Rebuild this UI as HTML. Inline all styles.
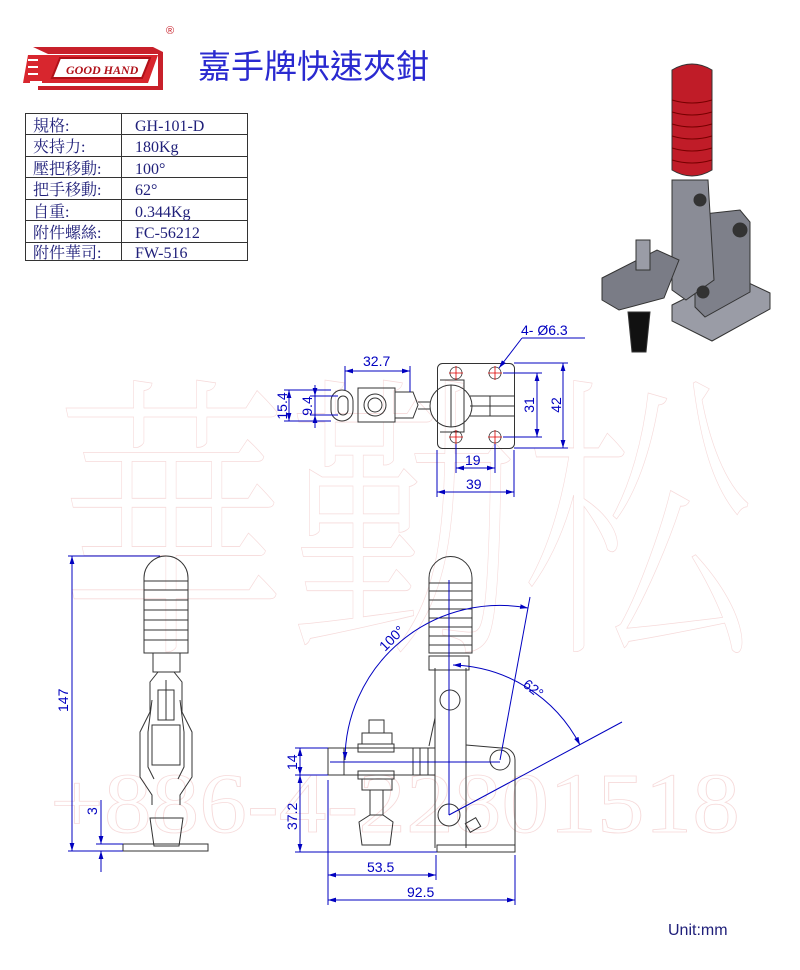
<!DOCTYPE html>
<html><head><meta charset="utf-8"><style>
html,body{margin:0;padding:0;background:#fff;}
svg{display:block;}
</style></head><body>
<svg width="800" height="970" viewBox="0 0 800 970" xmlns="http://www.w3.org/2000/svg" font-family="Liberation Sans, DejaVu Sans, sans-serif">
<defs>
<marker id="a" viewBox="0 0 10 6" refX="10" refY="3" markerWidth="8" markerHeight="5" markerUnits="userSpaceOnUse" orient="auto-start-reverse"><path d="M0 0 L10 3 L0 6z" fill="#0000c0"/></marker>
</defs>
<!-- watermark -->
<g fill="none" stroke="#f6dada" stroke-width="0.8">
<text x="55" y="630" font-size="300" font-family="Noto Serif CJK SC, serif" font-weight="200" textLength="700" lengthAdjust="spacingAndGlyphs">華勤松</text>
<text x="50" y="832" font-size="86" font-family="Liberation Serif, serif" textLength="690" lengthAdjust="spacingAndGlyphs">+886-4-22801518</text>
</g>
<!-- logo -->
<g>
<path d="M33 47 h120 l10 5 v38 h-125 v-4 h120 v-32 h-110 z" fill="#c8202a"/>
<path d="M28 55 h130 l-10 28 h-125 z" fill="#d8262e"/>
<path d="M60 58 h90 l-8 20 h-90 z" fill="#fff" stroke="#b01018" stroke-width="2"/>
<text x="66" y="74" font-family="Liberation Serif, serif" font-style="italic" font-weight="bold" font-size="12" fill="#b01018">GOOD HAND</text>
<path d="M28 60 h10 M28 67 h10 M28 74 h10 M30 82 h12" stroke="#fff" stroke-width="2"/>
<text x="166" y="34" font-size="11" fill="#c8202a">®</text>
</g>
<text x="198" y="78" font-size="33" fill="#2a2ad0" font-family="Liberation Sans, Noto Sans CJK TC, sans-serif">嘉手牌快速夾鉗</text>
<!-- table -->
<g stroke="#333" stroke-width="1" fill="none">
<rect x="25.5" y="113.5" width="222" height="147"/>
<line x1="121.5" y1="113" x2="121.5" y2="261"/>
<line x1="25" y1="134.5" x2="248" y2="134.5"/>
<line x1="25" y1="156.5" x2="248" y2="156.5"/>
<line x1="25" y1="177.5" x2="248" y2="177.5"/>
<line x1="25" y1="199.5" x2="248" y2="199.5"/>
<line x1="25" y1="220.5" x2="248" y2="220.5"/>
<line x1="25" y1="242.5" x2="248" y2="242.5"/>
</g>
<g font-size="16" fill="#20207a" font-family="Liberation Serif, Noto Serif CJK SC, serif">
<text x="33" y="131">規格:</text><text x="135" y="131">GH-101-D</text>
<text x="33" y="152">夾持力:</text><text x="135" y="152">180Kg</text>
<text x="33" y="174">壓把移動:</text><text x="135" y="174">100°</text>
<text x="33" y="195">把手移動:</text><text x="135" y="195">62°</text>
<text x="33" y="217">自重:</text><text x="135" y="217">0.344Kg</text>
<text x="33" y="238">附件螺絲:</text><text x="135" y="238">FC-56212</text>
<text x="33" y="258">附件華司:</text><text x="135" y="258">FW-516</text>
</g>
<!-- 3D render approx -->
<g stroke="#333" stroke-width="1">
<path d="M672 305 l60 -30 l38 18 v16 l-58 32 l-40 -20z" fill="#9a9ca6"/>
<path d="M695 215 l45 -5 l10 12 v70 l-45 25 l-10 -10z" fill="#7e808a"/>
<path d="M672 180 h36 l6 100 l-28 20 l-14 -10z" fill="#8a8c96"/>
<path d="M602 278 l55 -28 l22 10 l-15 38 l-45 12 l-17 -10z" fill="#7a7c86"/>
<rect x="636" y="240" width="14" height="30" fill="#9a9ca6"/>
<path d="M628 312 h22 l-4 40 h-14z" fill="#111"/>
<path d="M672 70 q20 -12 40 0 v100 q-20 12 -40 0z" fill="#c01c28"/>
<g stroke="#700" fill="none"><path d="M672 100 q20 6 40 0 M672 112 q20 6 40 0 M672 124 q20 6 40 0 M672 136 q20 6 40 0 M672 148 q20 6 40 0 M672 160 q20 6 40 0"/></g>
<circle cx="700" cy="200" r="6" fill="#333"/><circle cx="740" cy="230" r="7" fill="#333"/><circle cx="703" cy="292" r="6" fill="#333"/>
</g>
<!-- top view -->
<g stroke="#333" stroke-width="1" fill="none">
<rect x="437.5" y="363.5" width="77" height="85" rx="5"/>
<rect x="331" y="390" width="22" height="31" rx="11"/>
<rect x="338" y="396" width="10" height="19" rx="5"/>
<rect x="358" y="388" width="37" height="34"/>
<path d="M395 392 h18 l5 13 l-5 13 h-18"/>
<circle cx="375" cy="405" r="11"/><circle cx="375" cy="405" r="7"/>
<path d="M418 402 h12 M418 409 h12"/>
<circle cx="451" cy="406" r="21"/>
<line x1="451" y1="385" x2="451" y2="427"/>
<path d="M440 380 h24 v52 h-24"/>
<path d="M470 396 h44 M470 406 h44 M470 416 h44 M490 396 v20"/>
</g>
<g stroke="#d00" stroke-width="0.8">
<g fill="none" stroke="#333"><circle cx="456" cy="373" r="6"/><circle cx="495" cy="373" r="6"/><circle cx="456" cy="437" r="6"/><circle cx="495" cy="437" r="6"/></g>
<path d="M449 373h14M456 366v14M488 373h14M495 366v14M449 437h14M456 430v14M488 437h14M495 430v14"/>
</g>
<g stroke="#0000c0" stroke-width="1" fill="none">
<line x1="345" y1="371" x2="410" y2="371" marker-start="url(#a)" marker-end="url(#a)"/><line x1="345" y1="366" x2="345" y2="390"/><line x1="410" y1="366" x2="410" y2="392"/>
<line x1="289" y1="390" x2="289" y2="421" marker-start="url(#a)" marker-end="url(#a)"/><line x1="284" y1="390" x2="331" y2="390"/><line x1="284" y1="421" x2="331" y2="421"/>
<line x1="315" y1="385" x2="315" y2="396" marker-end="url(#a)"/><line x1="315" y1="428" x2="315" y2="415" marker-end="url(#a)"/><line x1="315" y1="396" x2="315" y2="415"/><line x1="310" y1="396" x2="338" y2="396"/><line x1="310" y1="415" x2="338" y2="415"/>
<line x1="537" y1="373" x2="537" y2="437" marker-start="url(#a)" marker-end="url(#a)"/><line x1="503" y1="373" x2="542" y2="373"/><line x1="503" y1="437" x2="542" y2="437"/>
<line x1="563" y1="363" x2="563" y2="448" marker-start="url(#a)" marker-end="url(#a)"/><line x1="514" y1="363" x2="568" y2="363"/><line x1="514" y1="448" x2="568" y2="448"/>
<line x1="456" y1="468" x2="495" y2="468" marker-start="url(#a)" marker-end="url(#a)"/><line x1="456" y1="444" x2="456" y2="473"/><line x1="495" y1="444" x2="495" y2="473"/>
<line x1="437" y1="492" x2="514" y2="492" marker-start="url(#a)" marker-end="url(#a)"/><line x1="437" y1="450" x2="437" y2="497"/><line x1="514" y1="450" x2="514" y2="497"/>
<line x1="522" y1="338" x2="585" y2="338"/><line x1="522" y1="338" x2="499" y2="368" marker-end="url(#a)"/>
</g>
<g font-size="14" fill="#0000c0">
<text x="363" y="366">32.7</text>
<text x="465" y="465">19</text>
<text x="466" y="489">39</text>
<text x="521" y="335">4- Ø6.3</text>
<text transform="translate(287,406) rotate(-90)" text-anchor="middle">15.4</text>
<text transform="translate(312,406) rotate(-90)" text-anchor="middle">9.4</text>
<text transform="translate(534,405) rotate(-90)" text-anchor="middle">31</text>
<text transform="translate(561,405) rotate(-90)" text-anchor="middle">42</text>
</g>
<!-- front view left -->
<g stroke="#333" stroke-width="1" fill="none">
<path d="M144 653 v-75 a22 22 0 0 1 44 0 v75 z"/>
<path d="M144 581h44M144 590h44M144 600h44M144 610h44M144 620h44M144 630h44M144 640h44"/>
<path d="M153 653 v19 h27 v-19"/>
<path d="M158 672 l-8 10 v30 l-10 20 v45 l12 18 v10 M174 672 l8 10 v30 l10 20 v45 l-12 18 v10"/>
<path d="M152 700 l-4 32 v35 l6 12 M180 700 l4 32 v35 l-6 12"/>
<rect x="152" y="725" width="28" height="40"/>
<path d="M158 690h16v30h-16zM166 680v40"/>
<path d="M150 818 h33 l-4 28 h-25 z"/>
<rect x="123" y="844" width="85" height="7"/>
</g>
<g stroke="#0000c0" stroke-width="1" fill="none">
<line x1="72" y1="556" x2="72" y2="851" marker-start="url(#a)" marker-end="url(#a)"/><line x1="68" y1="556" x2="160" y2="556"/><line x1="68" y1="851" x2="123" y2="851"/>
<line x1="101" y1="800" x2="101" y2="844" marker-end="url(#a)"/><line x1="101" y1="872" x2="101" y2="851" marker-end="url(#a)"/><line x1="96" y1="844" x2="123" y2="844"/>
</g>
<g font-size="14" fill="#0000c0">
<text transform="translate(68,712) rotate(-90)">147</text>
<text transform="translate(97,815) rotate(-90)">3</text>
</g>
<!-- side view right -->
<g stroke="#333" stroke-width="1" fill="none">
<path d="M429 653 v-75 a21.5 21.5 0 0 1 43 0 v75 z"/>
<path d="M429 583h43M429 591h43M429 600h43M429 609h43M429 618h43M429 627h43M429 636h43M429 645h43"/>
<rect x="429" y="656" width="40" height="14"/>
<path d="M435 668 v180 M466 668 v180"/>
<circle cx="450" cy="700" r="10"/><circle cx="449" cy="815" r="11"/>
<path d="M466 745 l35 3 a12 12 0 0 1 14 12 v92 h-78 v-5"/>
<circle cx="500" cy="760" r="10"/>
<rect x="437" y="845" width="78" height="7"/>
<path d="M435 718 l-6 28"/>
<rect x="328" y="748" width="107" height="27"/>
<path d="M344 748v27M413 748v27M420 748v27M428 748v27"/>
<rect x="358" y="744" width="36" height="8"/><rect x="358" y="771" width="36" height="8"/>
<rect x="362" y="733" width="30" height="11"/><rect x="362" y="779" width="30" height="11"/>
<rect x="369" y="720" width="15" height="13"/>
<path d="M370 790 v25 M383 790 v25 M359 822 l11 -7 h13 l10 7 l-3 23 h-28 z"/>
<rect x="467" y="820" width="12" height="10" transform="rotate(-30 473 825)"/>
</g>
<g stroke="#0000c0" stroke-width="1" fill="none">
<line x1="449" y1="580" x2="449" y2="815"/>
<line x1="330" y1="762" x2="500" y2="762"/>
<path d="M345 760 A155 155 0 0 1 528 608" marker-start="url(#a)" marker-end="url(#a)"/>
<line x1="500" y1="760" x2="530" y2="597"/>
<path d="M453 665 A148 148 0 0 1 580 745" marker-start="url(#a)" marker-end="url(#a)"/>
<line x1="449" y1="815" x2="622" y2="722"/>
<line x1="300" y1="748" x2="300" y2="775" marker-start="url(#a)" marker-end="url(#a)"/><line x1="300" y1="775" x2="300" y2="852" marker-start="url(#a)" marker-end="url(#a)"/><line x1="295" y1="748" x2="328" y2="748"/><line x1="295" y1="775" x2="328" y2="775"/><line x1="295" y1="852" x2="437" y2="852"/>
<line x1="328" y1="780" x2="328" y2="905"/><line x1="436" y1="855" x2="436" y2="880"/><line x1="515" y1="855" x2="515" y2="905"/>
<line x1="328" y1="875" x2="436" y2="875" marker-start="url(#a)" marker-end="url(#a)"/><line x1="328" y1="900" x2="515" y2="900" marker-start="url(#a)" marker-end="url(#a)"/>
</g>
<g font-size="14" fill="#0000c0">
<text x="367" y="872">53.5</text>
<text x="407" y="897">92.5</text>
<text transform="translate(385,652) rotate(-45)">100°</text>
<text transform="translate(522,686) rotate(38)">62°</text>
<text transform="translate(297,770) rotate(-90)">14</text>
<text transform="translate(297,830) rotate(-90)">37.2</text>
</g>
<text x="668" y="935" font-size="16" fill="#20207a">Unit:mm</text>
</svg>
</body></html>
